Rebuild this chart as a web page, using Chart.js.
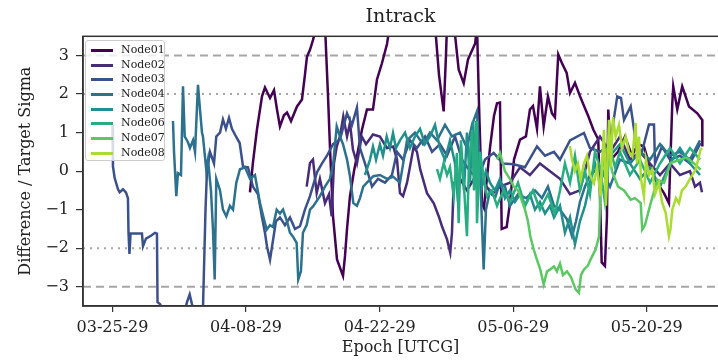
<!DOCTYPE html>
<html>
<head>
<meta charset="utf-8">
<script src="https://cdn.jsdelivr.net/npm/chart.js@4.4.1/dist/chart.umd.min.js"></script>
<style>
  html, body { margin: 0; padding: 0; background: #fff; }
  #wrap { position: relative; width: 718px; height: 360px; }
  #legend {
    position: absolute; left: 85px; top: 40px; width: 80px; height: 121px;
    box-sizing: border-box; background: rgba(255,255,255,0.8);
    border: 1px solid #cccccc; border-radius: 3px;
    font-family: "DejaVu Serif", serif; font-size: 11px; color: #222;
  }
  .item { position: absolute; left: 0; height: 14px; line-height: 14px; white-space: nowrap; }
  .swatch { position: absolute; left: 5px; top: 6px; width: 22px; height: 3px; }
  .label { position: absolute; left: 35px; top: 0; }
</style>
</head>
<body>
<div id="wrap">
  <canvas id="chart" width="718" height="360"></canvas>
  <div id="legend"></div>
</div>
<script>
// x values are days since 03-25-29, y values are difference / target sigma
const node01 = [
  [14.41,-0.55],[14.72,0.22],[15.14,1.08],[15.67,1.94],[15.98,2.17],[16.51,1.9],[16.93,2.1],[17.24,1.6],[17.55,1.16],[17.97,1.45],
  [18.29,1.52],[18.71,1.3],[19.34,1.68],[19.86,1.86],[20.17,2.5],[20.38,2.97],[20.70,3.15],[21.01,3.4],[21.43,3.8],[22.27,3.8],
  [22.58,2.0],[22.79,0.64],[23.11,-1.17],[23.53,-2.29],[24.16,-2.72],[24.37,-2.2],[24.58,-1.5],[24.89,-0.65],[25.31,0.0],[25.62,0.39],
  [26.15,1.08],[26.67,1.6],[27.30,1.6],[27.72,2.38],[28.24,2.8],[28.77,3.3],[29.08,3.8],[33.80,3.8],[34.22,2.5],[34.71,1.55],
  [34.95,3.0],[35.06,3.8],[35.79,3.8],[36.28,2.64],[36.81,2.28],[37.26,2.9],[38.02,3.32],[38.20,3.8],[38.41,1.76],[38.72,-0.83],
  [38.93,-0.95],[39.56,0.6],[39.98,1.43],[40.30,1.76],[40.61,1.78],[40.79,-1.5],[41.31,-1.45],[41.66,-0.83],[42.08,0.3],[42.71,0.82],
  [43.33,0.9],[43.75,1.6],[44.07,1.69],[44.49,1.1],[44.80,2.2],[45.19,1.16],[45.64,1.94],[46.06,1.5],[46.37,1.4],[46.72,3.03],
  [47.11,2.8],[47.60,2.55],[47.95,2.03],[48.47,2.29],[48.99,1.95],[49.41,1.7],[49.86,1.43],[50.39,1.08],[50.91,0.82],[51.09,-0.64],
  [51.27,-2.37],[51.61,-2.46],[51.82,-1.2],[51.96,1.6],[52.24,0.3],[52.98,0.5],[53.71,0.9],[54.44,0.4],[55.07,0.7],[55.70,0.64],
  [56.40,0.04],[57.06,-0.3],[57.80,-0.57],[58.32,-0.83],[58.67,1.76],[58.77,2.2],[59.19,1.6],[59.71,2.2],[60.42,1.68],[61.29,1.5],
  [61.81,1.33],[61.82,0.64]
];
const node02 = [
  [20.35,-0.4],[20.70,0.21],[21.01,0.3],[21.40,-0.57],[21.74,-0.2],[22.27,-0.83],[22.69,-0.6],[22.97,-1.17],[23.21,0.2],[23.50,0.64],
  [23.84,0.9],[24.19,1.42],[24.58,0.9],[24.89,1.25],[25.20,0.56],[25.62,0.2],[26.12,0.9],[26.57,0.7],[27.30,0.95],[28.03,0.9],
  [28.77,0.6],[29.43,0.64],[29.82,0.3],[30.13,-0.57],[30.45,-0.65],[30.87,-0.3],[31.57,0.64],[31.91,0.5],[32.26,0.04],[32.96,-0.57],
  [33.66,-0.83],[34.19,-1.17],[34.53,-1.43],[35.06,-1.77],[35.40,-2.12],[35.58,-1.6],[35.76,-0.31],[36.42,-0.2],[37.15,-0.5],[37.89,-0.2],
  [38.93,-0.3],[39.77,-0.6],[40.61,-0.4],[41.66,-0.3],[42.71,0.1],[43.75,-0.1],[44.80,0.2],[45.85,0.0],[46.90,-0.2],[47.95,-0.6],
  [48.99,-0.5],[50.04,0.5],[51.09,0.9],[52.14,0.5],[53.19,0.9],[54.23,0.3],[55.28,0.5],[56.33,0.2],[57.38,-0.1],[58.43,0.2],
  [59.47,-0.1],[60.52,0.0],[61.05,-0.4],[61.57,-0.3],[61.78,-0.55]
];
const node03 = [
  [0.0,1.2],[0.05,0.12],[0.23,-0.18],[0.58,-0.47],[0.75,-0.55],[1.10,-0.47],[1.41,-0.55],[1.62,-0.7],[1.68,-1.6],[1.78,-2.15],
  [1.89,-1.62],[2.36,-1.62],[3.09,-1.62],[3.20,-1.95],[3.51,-1.75],[4.07,-1.67],[4.45,-1.6],[4.66,-1.62],[4.72,-3.4],[4.98,-3.45],
  [5.29,-3.6],[7.60,-3.6],[7.81,-3.4],[8.09,-3.2],[8.33,-3.45],[8.54,-3.6],[9.48,-3.6],[9.75,-1.0],[9.90,0.0],[10.22,0.5],
  [10.64,0.2],[10.88,0.9],[11.27,1.0],[11.58,1.34],[11.89,1.1],[12.21,1.38],[12.52,1.1],[12.94,0.9],[13.33,0.73],[13.68,0.12],
  [14.20,0.1],[14.72,-0.4],[15.25,-0.6],[15.67,-1.2],[15.98,-1.6],[16.19,-1.95],[16.51,-2.3],[16.82,-1.8],[17.13,-1.3],[17.55,-1.2],
  [18.08,-1.4],[18.60,-1.2],[19.13,-1.5],[19.65,-1.43],[20.17,-1.0],[20.70,-0.65],[21.43,-0.03],[21.96,0.2],[22.48,0.4],[23.11,0.7],
  [23.84,0.82],[24.58,1.5],[25.10,1.2],[25.62,1.65],[25.94,0.6],[26.46,0.2],[27.20,-0.4],[27.83,-0.2],[28.56,-0.3],[29.29,-0.1],
  [29.82,0.5],[30.45,0.3],[31.18,0.8],[31.91,0.6],[32.75,0.9],[33.49,0.5],[34.32,0.7],[35.06,0.4],[35.90,0.9],[36.63,0.3],
  [37.47,0.0],[38.31,-0.2],[39.04,0.3],[39.95,0.47],[40.92,0.2],[42.05,0.18],[43.23,0.1],[44.49,0.64],[45.33,0.4],[46.27,0.5],
  [46.90,0.3],[47.95,0.8],[49.41,0.99],[50.04,0.6],[51.09,0.5],[52.14,0.7],[52.90,1.94],[53.29,1.9],[53.61,1.33],[54.31,1.68],
  [54.65,1.1],[54.86,0.64],[55.49,0.5],[56.23,1.21],[56.75,1.21],[56.86,0.2],[57.59,0.64],[58.43,0.3],[59.47,0.4],[60.52,0.2],
  [61.64,0.73]
];
const node04 = [
  [6.34,1.3],[6.45,0.5],[6.69,-0.65],[6.86,-0.05],[7.18,-0.1],[7.39,2.2],[7.57,0.9],[7.91,0.75],[8.12,0.6],[8.44,0.8],
  [8.65,0.5],[8.96,2.24],[9.17,1.6],[9.38,1.0],[9.48,0.9],[9.83,0.04],[10.01,0.3],[10.32,-0.5],[10.53,-1.5],[10.71,-2.81],
  [10.88,-0.2],[11.27,-0.5],[11.58,-1.0],[11.93,-1.17],[12.31,-0.9],[12.63,-1.0],[12.97,-0.31],[13.36,0.05],[13.89,0.1],[14.41,-0.2],
  [14.93,-0.1],[15.46,-0.83],[15.80,-1.17],[16.16,-1.52],[16.51,-1.4],[16.82,-1.45],[17.21,-1.0],[17.55,-1.1],[17.87,-1.0],[18.29,-1.3],
  [18.60,-1.6],[18.92,-1.7],[19.30,-1.86],[19.47,-2.81],[19.75,-2.6],[19.96,-1.6],[20.35,-1.4],[20.70,-1.0],[21.04,-0.91],[21.74,-0.65],
  [22.27,-0.4],[22.79,-0.2],[23.14,0.21],[23.50,1.16],[23.84,0.9],[24.16,0.7],[24.58,0.3],[24.89,-0.13],[25.24,-0.83],[25.62,-0.9],
  [25.94,-0.7],[26.28,-0.4],[26.67,-0.3],[27.33,-0.13],[28.03,-0.1],[28.77,-0.2],[29.43,-0.15],[30.13,-0.3],[30.87,0.8],[31.70,1.0],
  [32.54,0.7],[33.28,1.0],[34.01,0.8],[34.85,1.2],[35.58,0.9],[36.42,1.0],[37.15,0.6],[37.68,1.2],[38.20,1.55],[38.52,0.0],
  [38.90,-2.55],[39.14,-1.0],[39.56,-0.5],[40.09,-0.7],[40.61,-0.3],[41.13,-0.4],[41.66,-0.9],[42.50,-0.6],[43.33,-0.7],[44.28,-0.5],
  [45.01,-0.7],[45.64,-0.4],[46.27,-0.9],[46.90,-1.0],[47.63,-1.25],[48.16,-1.69],[48.58,-1.3],[48.99,-0.8],[49.52,-0.4],[50.04,-0.1],
  [51.09,0.1],[52.14,-0.4],[53.19,0.3],[54.23,0.2],[55.28,0.5],[56.33,0.3],[57.38,0.7],[58.43,0.4],[59.47,0.5],[60.52,0.3],
  [61.57,0.8]
];
const node05 = [
  [26.46,-0.1],[26.99,0.3],[27.30,0.64],[27.62,0.3],[28.03,0.7],[28.35,0.4],[28.74,0.9],[29.08,0.6],[29.40,0.99],[29.71,0.6],
  [30.13,0.8],[30.66,1.0],[31.18,0.6],[31.70,0.9],[32.23,1.1],[32.75,0.7],[33.28,0.9],[33.80,1.2],[34.32,0.6],[34.85,0.3],
  [35.37,0.8],[35.90,0.2],[36.21,-0.8],[36.52,0.5],[36.84,-0.5],[37.15,1.0],[37.47,-0.3],[37.78,1.3],[38.10,-0.2],[38.41,0.5],
  [38.72,-0.4],[39.14,0.0],[39.56,-0.3],[40.09,-0.5],[40.61,-0.2],[41.13,-0.7],[41.66,-0.5],[42.18,-0.8],[42.71,-0.6],[43.23,-0.9],
  [43.75,-0.6],[44.28,-1.0],[44.80,-0.8],[45.33,-1.1],[45.85,-0.9],[46.27,-1.2],[46.90,-0.9],[47.42,-1.6],[47.95,-1.2],[48.47,-1.9],
  [48.99,-1.3],[49.52,-0.9],[50.04,-0.3],[50.57,0.2],[51.09,-0.3],[52.14,0.4],[53.19,0.7],[54.23,0.2],[55.28,-0.2],[56.33,0.1],
  [57.38,-0.4],[58.43,0.2],[59.47,0.6],[60.52,0.2],[61.57,-0.1]
];
const node06 = [
  [34.01,0.05],[34.32,-0.2],[34.71,0.21],[35.06,-0.1],[35.37,0.1],[35.76,-0.65],[36.10,0.47],[36.28,-1.35],[36.52,0.8],[36.84,-0.4],
  [37.15,-1.69],[37.36,0.2],[37.68,1.07],[37.89,-0.5],[38.10,1.3],[38.20,-1.35],[38.52,0.5],[38.93,-0.2],[39.25,-0.65],[39.77,-0.5],
  [40.30,-0.9],[41.00,-0.48],[41.66,-0.8],[42.50,-0.3],[43.23,-0.9],[44.07,-0.5],[44.80,-1.0],[45.64,-0.6],[46.37,-1.1],[46.90,-0.5],
  [47.42,0.2],[47.95,-0.3],[48.47,0.4],[48.99,-0.5],[49.52,0.0],[50.04,-0.6],[50.57,0.5],[51.09,0.1],[51.61,-0.8],[52.14,0.6],
  [52.67,0.1],[53.19,0.5],[54.23,-0.1],[55.28,0.3],[56.33,-0.3],[57.38,0.2],[58.43,0.6],[59.47,0.2],[60.52,0.6],[61.57,0.3]
];
const node07 = [
  [40.30,0.3],[40.61,0.47],[41.13,0.0],[41.66,-0.2],[42.05,-0.4],[42.50,-0.5],[42.81,-0.7],[43.23,-1.0],[43.54,-1.3],[43.79,-1.69],
  [44.14,-2.03],[44.49,-2.3],[44.83,-2.55],[45.19,-2.94],[45.54,-2.6],[45.88,-2.55],[46.27,-2.47],[46.58,-2.6],[46.90,-2.4],[47.21,-2.7],
  [47.63,-2.6],[48.05,-2.75],[48.54,-3.07],[48.89,-3.16],[49.10,-2.7],[49.41,-2.55],[49.83,-2.45],[50.11,-2.29],[50.64,-2.03],[50.99,-1.69],
  [51.16,-0.39],[51.51,0.47],[51.93,0.6],[52.35,0.0],[52.98,-0.4],[53.61,-0.5],[54.31,-0.74],[54.76,-0.7],[55.36,-0.83],[55.52,-1.52],
  [55.81,-1.4],[56.33,-0.9],[57.10,-0.22],[57.80,-0.3],[58.50,0.21],[59.47,0.3],[60.21,0.35],[60.94,0.2],[61.64,0.04]
];
const node08 = [
  [47.95,0.65],[48.16,0.3],[48.47,0.0],[48.78,0.2],[49.07,-0.22],[49.41,0.2],[49.73,0.4],[50.04,-0.1],[50.46,-0.31],[50.78,0.1],
  [51.16,-0.65],[51.30,0.2],[51.51,1.07],[51.72,-0.9],[52.03,1.33],[52.24,0.1],[52.45,1.4],[52.73,0.9],[53.08,1.2],[53.40,0.6],
  [53.78,0.9],[54.13,0.5],[54.48,0.38],[54.83,1.25],[54.97,0.2],[55.18,0.9],[55.39,-0.2],[55.70,-0.65],[55.91,0.3],[56.23,-0.1],
  [56.57,0.04],[56.86,-0.6],[57.27,-0.31],[57.59,-0.8],[57.98,-1.09],[58.32,-1.69],[58.48,-1.5],[58.67,-1.0],[59.05,-0.7],[59.37,-0.83],
  [59.68,-0.5],[60.07,-0.4],[60.52,-0.2],[61.12,0.04],[61.64,0.56],[61.78,0.6]
];

const nodeNames = ["Node01", "Node02", "Node03", "Node04", "Node05", "Node06", "Node07", "Node08"];
const nodeSeries = [node01, node02, node03, node04, node05, node06, node07, node08];
const nodeColors = ["#440154", "#472c7a", "#3b518b", "#2c718e", "#21908d", "#27ad81", "#5cc863", "#aadc32"];

const xTickDays = [0, 14, 28, 42, 56];
const xTickLabels = ["03-25-29", "04-08-29", "04-22-29", "05-06-29", "05-20-29"];
const yTicks = [-3, -2, -1, 0, 1, 2, 3];
const dashedLevels = [3, -3];
const dottedLevels = [2, -2];
const xMin = -3.09, xMax = 63.46;
const yMin = -3.5, yMax = 3.5;

const serif = "DejaVu Serif";
const textColor = "#222222";
const axisColor = "#333333";

const datasets = [];
nodeSeries.forEach((series, i) => {
	datasets.push({
		label: nodeNames[i],
		data: series.map(([x, y]) => ({ x: x, y: y })),
		borderColor: nodeColors[i],
		borderWidth: 2.5,
		pointRadius: 0,
		fill: false,
		tension: 0,
		clip: 0,
		order: nodeNames.length - i,
	});
});
dashedLevels.forEach((v) => {
	datasets.push({
		label: "ref",
		data: [{ x: xMin, y: v }, { x: xMax, y: v }],
		borderColor: "#a6a6a6",
		borderWidth: 2,
		borderDash: [8, 5],
		pointRadius: 0,
		clip: 0,
		order: 20,
	});
});
dottedLevels.forEach((v) => {
	datasets.push({
		label: "ref",
		data: [{ x: xMin, y: v }, { x: xMax, y: v }],
		borderColor: "#a6a6a6",
		borderWidth: 2,
		borderDash: [2, 5],
		pointRadius: 0,
		clip: 0,
		order: 20,
	});
});

// box around the plotting area, like a matplotlib axes frame
const frame = {
	id: "frame",
	afterDraw(chart) {
		const { ctx, chartArea } = chart;
		ctx.save();
		ctx.strokeStyle = axisColor;
		ctx.lineWidth = 1.5;
		ctx.strokeRect(chartArea.left, chartArea.top, chartArea.right - chartArea.left + 2, chartArea.bottom - chartArea.top);
		ctx.restore();
	},
};

new Chart(document.getElementById("chart").getContext("2d"), {
	type: "line",
	data: { datasets: datasets },
	plugins: [frame],
	options: {
		responsive: false,
		animation: false,
		layout: { padding: 0 },
		plugins: {
			legend: { display: false },
			tooltip: { enabled: false },
			title: {
				display: true,
				text: "Intrack",
				fullSize: false,
				color: textColor,
				font: { family: serif, size: 19, weight: "normal" },
				padding: { top: 6, bottom: 7.5 },
			},
		},
		scales: {
			x: {
				type: "linear",
				min: xMin,
				max: xMax,
				afterBuildTicks: (scale) => {
					scale.ticks = xTickDays.map((v) => ({ value: v }));
				},
				afterFit: (scale) => {
					scale.height = 54;
				},
				ticks: {
					autoSkip: false,
					maxRotation: 0,
					padding: 6,
					color: textColor,
					font: { family: serif, size: 16 },
					callback: (v) => xTickLabels[xTickDays.indexOf(v)],
				},
				grid: { display: true, drawOnChartArea: false, drawTicks: true, tickLength: 6, color: axisColor, lineWidth: 1.2 },
				border: { display: true, color: axisColor, width: 1.5 },
				title: {
					display: true,
					text: "Epoch [UTCG]",
					color: textColor,
					font: { family: serif, size: 16 },
					padding: { top: 0, bottom: 3 },
				},
			},
			y: {
				min: yMin,
				max: yMax,
				afterBuildTicks: (scale) => {
					scale.ticks = yTicks.map((v) => ({ value: v }));
				},
				afterFit: (scale) => {
					scale.width = 83;
				},
				ticks: {
					padding: 7,
					color: textColor,
					font: { family: serif, size: 16 },
					callback: (v) => (v < 0 ? "\u2212" + Math.abs(v) : String(v)),
				},
				grid: { display: true, drawOnChartArea: false, drawTicks: true, tickLength: 7, color: axisColor, lineWidth: 1.2 },
				border: { display: true, color: axisColor, width: 1.5 },
				title: {
					display: true,
					text: "Difference / Target Sigma",
					color: textColor,
					font: { family: serif, size: 16 },
					padding: { top: 16, bottom: 0 },
				},
			},
		},
	},
});

// legend drawn as html text inside the axes, top left
const legendBox = document.getElementById("legend");
legendBox.innerHTML = nodeNames
	.map((name, i) => `
		<div class="item" style="top:${2 + i * 14.65}px">
			<span class="swatch" style="background:${nodeColors[i]}"></span>
			<span class="label">${name}</span>
		</div>`)
	.join("");
</script>
</body>
</html>
